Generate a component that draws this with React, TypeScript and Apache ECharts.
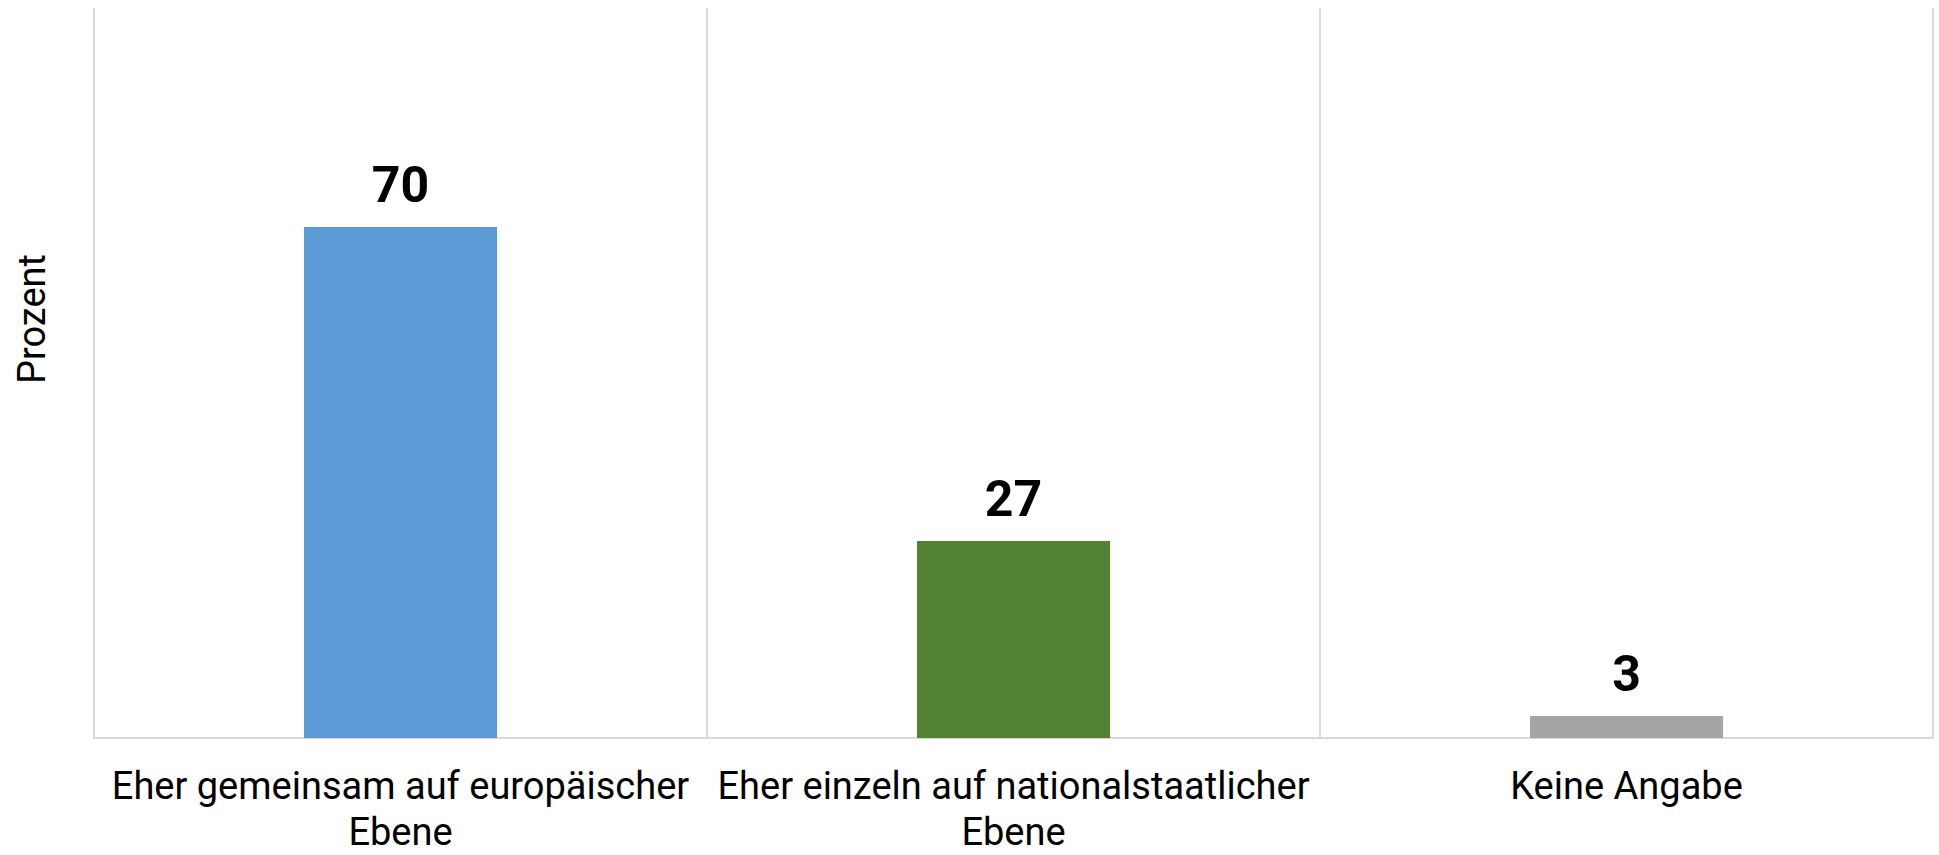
import React, { useEffect, useRef } from "react";
import * as echarts from "echarts";

const categories: string[] = [
  "Eher gemeinsam auf europäischer\nEbene",
  "Eher einzeln auf nationalstaatlicher\nEbene",
  "Keine Angabe",
];
const values: number[] = [70, 27, 3];
const barColors: string[] = ["#5B9BD5", "#548235", "#A5A5A5"];
const yAxisTitle = "Prozent";
const yMax = 100;

export default function App() {
  const ref = useRef<HTMLDivElement>(null);
  useEffect(() => {
    if (!ref.current) return;
    const chart = echarts.init(ref.current, null, { renderer: "svg" });
    const catFont = "Roboto, 'Noto Sans', sans-serif";
    const valFont = "Roboto, 'Noto Sans', sans-serif";
    chart.setOption({
      animation: false,
      backgroundColor: "#ffffff",
      grid: { left: 94, right: 6, top: 8, bottom: 113, containLabel: false },
      xAxis: {
        type: "category",
        data: categories,
        boundaryGap: true,
        axisLine: { show: true, lineStyle: { color: "#D9D9D9", width: 2 } },
        axisTick: { show: false },
        splitLine: { show: true, lineStyle: { color: "#D9D9D9", width: 2 } },
        axisLabel: {
          interval: 0,
          margin: 25,
          color: "#000",
          fontFamily: catFont,
          fontSize: 38,
          fontWeight: 400,
          lineHeight: 46,
          align: "center",
        },
      },
      yAxis: {
        type: "value",
        min: 0,
        max: yMax,
        show: true,
        axisLine: { show: false },
        axisTick: { show: false },
        axisLabel: { show: false },
        splitLine: { show: false },
      },
      graphic: [
        {
          type: "text",
          x: 32,
          y: 319,
          rotation: Math.PI / 2,
          style: {
            text: yAxisTitle,
            fill: "#000",
            font: `400 38px ${catFont}`,
            align: "center",
            verticalAlign: "middle",
          },
        },
      ],
      series: [
        {
          type: "bar",
          barWidth: "31.5%",
          data: values.map((v, i) => ({ value: v, itemStyle: { color: barColors[i] } })),
          label: {
            show: true,
            position: "top",
            distance: 16,
            color: "#000",
            fontFamily: valFont,
            fontWeight: "bold",
            fontSize: 50,
            lineHeight: 52,
          },
        },
      ],
    });
    return () => chart.dispose();
  }, []);
  return (
    <div
      ref={ref}
      style={{ position: "fixed", left: 0, top: 0, width: "1939px", height: "855px" }}
    />
  );
}
